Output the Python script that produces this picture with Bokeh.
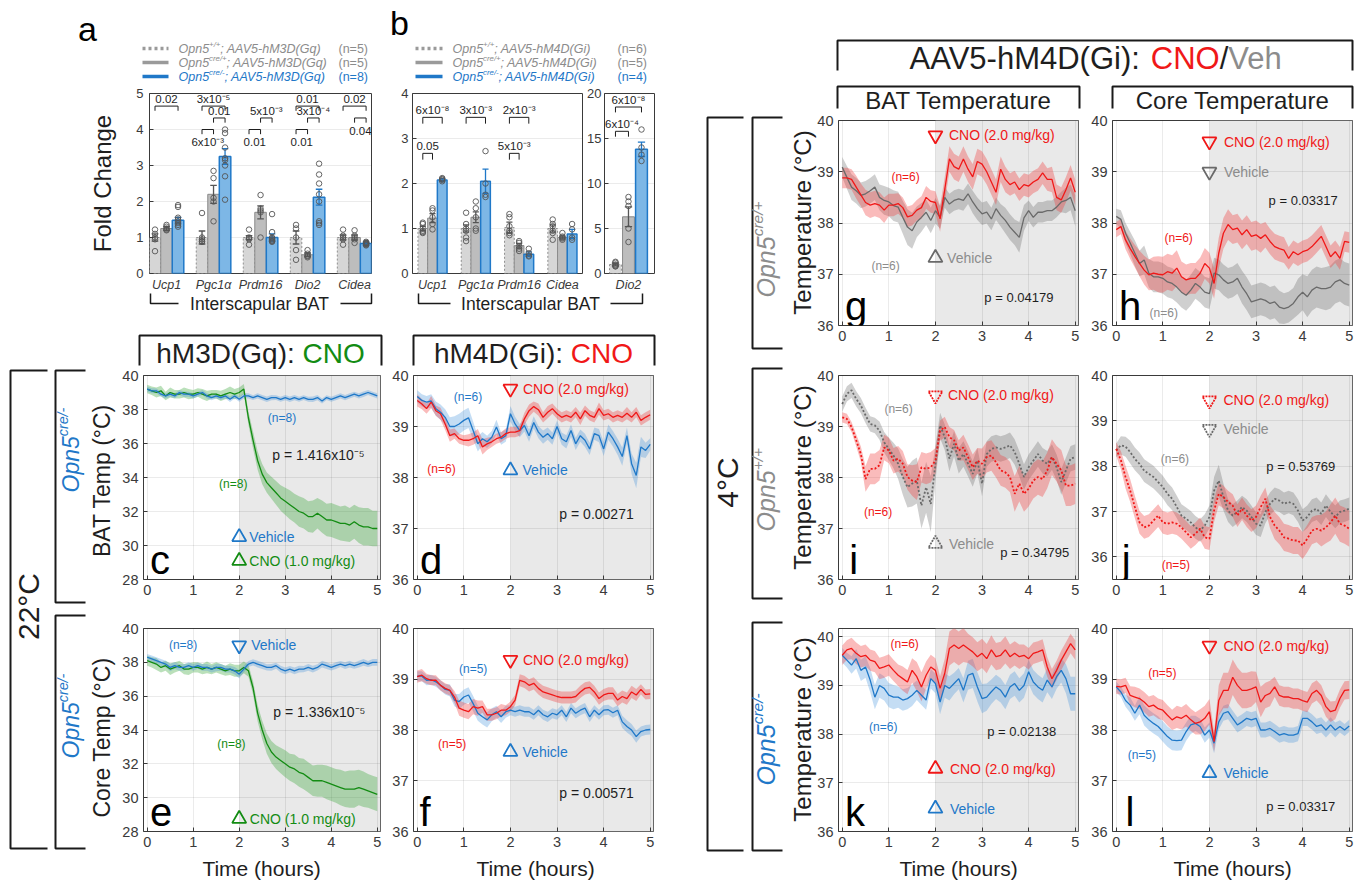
import numpy as np
from bokeh.plotting import figure
from bokeh.models import Range1d, Column, BoxAnnotation
from bokeh.core.properties import value
from bokeh.embed import file_html
from bokeh.resources import INLINE

FONT = "Liberation Sans"
BLUE = "#1f78c8"; RED = "#f01818"; GREEN = "#138c13"
GRAYL = "#6a6a6a"; GRAYT = "#8c8c8c"; INK = "#1e1e1e"

# ---------------- data: panel a (hM3D(Gq), fold change) ----------------
genes_a = ["Ucp1", "Pgc1α", "Prdm16", "Dio2", "Cidea"]
a_wt_mean = [1.0, 1.0, 1.0, 1.0, 1.0]
a_het_mean = [1.25, 2.2, 1.7, 0.52, 1.0]
a_ko_mean = [1.48, 3.25, 1.0, 2.12, 0.83]
a_wt_sem = [0.10, 0.18, 0.05, 0.18, 0.07]
a_het_sem = [0.05, 0.25, 0.18, 0.05, 0.07]
a_ko_sem = [0.08, 0.22, 0.10, 0.22, 0.04]
a_wt_pts = [[1.22, 1.1, 1.0, 0.95, 0.62], [1.68, 1.0, 0.95, 0.9, 0.88], [1.22, 1.0, 0.98, 0.95, 0.8],
            [1.35, 1.25, 1.0, 0.65, 0.38], [1.22, 1.05, 1.0, 0.95, 0.8]]
a_het_pts = [[1.35, 1.3, 1.25, 1.2, 1.22], [2.85, 2.65, 2.1, 2.0, 1.45], [2.18, 1.8, 1.75, 1.7, 1.0],
             [0.65, 0.55, 0.5, 0.48, 0.45], [1.2, 1.05, 1.0, 0.95, 0.85]]
a_ko_pts = [[1.9, 1.85, 1.5, 1.4, 1.35, 1.3, 1.45, 1.55], [4.0, 3.9, 3.5, 3.2, 3.15, 3.0, 2.7, 2.05],
            [1.65, 1.15, 1.0, 0.95, 0.92, 0.9, 0.88, 0.98], [3.05, 2.75, 2.5, 2.2, 2.0, 1.45, 1.35, 1.4],
            [0.88, 0.85, 0.83, 0.82, 0.8, 0.78, 0.85, 0.84]]
a_n = ["(n=5)", "(n=5)", "(n=8)"]
a_pvals = [(1, 0, 2, 4.65, "0.02", "above"), (2, 0, 2, 4.65, "3x10⁻⁵", "above"),
           (2, 1, 2, 4.32, "0.01", "above"), (2, 0, 1, 4.0, "6x10⁻³", "below"),
           (3, 1, 2, 4.32, "5x10⁻³", "above"), (3, 0, 1, 4.0, "0.01", "below"),
           (4, 0, 2, 4.65, "0.01", "above"), (4, 1, 2, 4.32, "3x10⁻⁴", "above"),
           (4, 0, 1, 4.0, "0.01", "below"), (5, 0, 2, 4.65, "0.02", "above"),
           (5, 1, 2, 4.32, "0.04", "below")]

# ---------------- data: panel b (hM4D(Gi), fold change) ----------------
genes_b = ["Ucp1", "Pgc1α", "Prdm16", "Cidea"]
b_wt_mean = [1.0, 1.0, 1.02, 1.0]
b_het_mean = [1.23, 1.25, 0.62, 0.8]
b_ko_mean = [2.08, 2.05, 0.43, 0.88]
b_wt_sem = [0.05, 0.08, 0.12, 0.08]
b_het_sem = [0.10, 0.12, 0.05, 0.03]
b_ko_sem = [0.03, 0.27, 0.05, 0.10]
b_wt_pts = [[1.13, 1.1, 1.0, 0.95, 0.92, 0.9], [1.35, 1.1, 1.0, 0.95, 0.8, 0.72],
            [1.32, 1.25, 1.05, 0.95, 0.9, 0.85], [1.2, 1.1, 1.05, 0.95, 0.9, 0.75]]
b_het_pts = [[1.45, 1.4, 1.25, 1.1, 0.98], [1.6, 1.45, 1.25, 1.0, 0.95],
             [0.72, 0.68, 0.6, 0.55, 0.5], [0.9, 0.82, 0.8, 0.78, 0.75]]
b_ko_pts = [[2.12, 2.1, 2.08, 2.05], [2.72, 2.0, 1.75, 1.7], [0.55, 0.45, 0.4, 0.38], [1.1, 0.98, 0.8, 0.75]]
genes_b2 = ["Dio2"]
dio2_wt_mean = [1.0]; dio2_het_mean = [6.3]; dio2_ko_mean = [13.8]
dio2_wt_sem = [0.15]; dio2_het_sem = [1.1]; dio2_ko_sem = [0.8]
dio2_wt_pts = [[1.3, 1.2, 1.0, 0.9, 0.8, 0.8]]
dio2_het_pts = [[8.5, 8.0, 7.5, 5.0, 3.5]]
dio2_ko_pts = [[16.0, 14.0, 13.2, 12.5]]
b_n = ["(n=6)", "(n=5)", "(n=4)"]
b_pvals = [(1, 0, 2, 3.47, "6x10⁻⁸", "above"), (1, 0, 1, 2.67, "0.05", "above"),
           (2, 0, 2, 3.47, "3x10⁻³", "above"), (3, 0, 2, 3.47, "2x10⁻³", "above"),
           (3, 0, 1, 2.67, "5x10⁻³", "above")]
dio2_pvals = [(1, 0, 2, 18.5, "6x10⁻⁸", "above"), (1, 0, 1, 15.8, "6x10⁻⁴", "above")]

# ---------------- data: temperature time courses ----------------
TIME = [0.0, 0.1, 0.2, 0.3, 0.4, 0.5, 0.6, 0.7, 0.8, 0.9, 1.0, 1.1, 1.2, 1.3, 1.4, 1.5, 1.6, 1.7, 1.8, 1.9,
        2.0, 2.1, 2.2, 2.3, 2.4, 2.5, 2.6, 2.7, 2.8, 2.9, 3.0, 3.1, 3.2, 3.3, 3.4, 3.5, 3.6, 3.7, 3.8, 3.9,
        4.0, 4.1, 4.2, 4.3, 4.4, 4.5, 4.6, 4.7, 4.8, 4.9, 5.0]

c_veh = [39.2, 39.1, 39.1, 38.9, 38.8, 38.9, 38.8, 39.0, 38.9, 38.9, 38.8, 38.9, 39.0, 38.8, 38.7, 38.8, 38.7,
         38.8, 38.6, 38.8, 38.6, 38.8, 38.8, 38.7, 38.8, 38.7, 38.6, 38.7, 38.7, 38.6, 38.7, 38.6, 38.7, 38.6,
         38.7, 38.6, 38.6, 38.7, 38.5, 38.7, 38.6, 38.7, 38.8, 38.7, 38.8, 38.9, 38.8, 38.9, 39.0, 38.9, 38.8]
c_veh_sem = [0.15, 0.15, 0.14, 0.15, 0.16, 0.15, 0.14, 0.15, 0.16, 0.15, 0.15, 0.14, 0.15, 0.16, 0.15, 0.15,
             0.14, 0.15, 0.16, 0.15, 0.15, 0.16, 0.15, 0.14, 0.15, 0.15, 0.16, 0.15, 0.14, 0.15, 0.15, 0.16,
             0.15, 0.15, 0.14, 0.15, 0.16, 0.15, 0.15, 0.14, 0.15, 0.16, 0.15, 0.15, 0.16, 0.15, 0.15, 0.16,
             0.15, 0.15, 0.15]
c_cno = [39.2, 39.1, 39.0, 39.1, 38.8, 39.0, 38.9, 38.9, 39.0, 38.9, 38.9, 39.0, 38.9, 38.8, 38.9, 38.9, 38.8,
         38.9, 39.0, 38.9, 39.0, 39.2, 37.5, 36.2, 35.0, 34.2, 33.7, 33.4, 33.1, 32.8, 32.6, 32.4, 32.2, 32.0,
         31.9, 31.7, 31.7, 31.9, 31.7, 31.5, 31.5, 31.4, 31.3, 31.3, 31.2, 31.4, 31.2, 31.1, 31.1, 31.0, 31.0]
c_cno_sem = [0.25, 0.25, 0.3, 0.3, 0.25, 0.3, 0.25, 0.25, 0.3, 0.3, 0.25, 0.25, 0.3, 0.3, 0.25, 0.25, 0.3, 0.3,
             0.35, 0.3, 0.3, 0.3, 0.4, 0.5, 0.55, 0.6, 0.6, 0.65, 0.7, 0.75, 0.8, 0.85, 0.85, 0.9, 0.9, 0.9,
             0.95, 0.9, 0.95, 0.95, 1.0, 1.0, 1.0, 1.05, 1.0, 1.0, 1.05, 1.1, 1.1, 1.05, 1.05]

e_veh = [38.3, 38.2, 38.1, 38.0, 37.9, 37.7, 37.8, 37.7, 37.7, 37.8, 37.7, 37.8, 37.7, 37.7, 37.6, 37.7, 37.7,
         37.6, 37.6, 37.5, 37.3, 37.6, 37.9, 38.0, 37.9, 37.8, 37.7, 37.7, 37.8, 37.6, 37.5, 37.6, 37.5, 37.6,
         37.6, 37.7, 37.6, 37.7, 37.9, 37.8, 37.7, 37.8, 37.9, 37.8, 37.9, 37.8, 37.9, 38.0, 37.9, 38.0, 38.0]
e_veh_sem = [0.2, 0.2, 0.2, 0.2, 0.2, 0.22, 0.2, 0.2, 0.18, 0.2, 0.2, 0.18, 0.2, 0.2, 0.2, 0.22, 0.2, 0.2, 0.2,
             0.22, 0.25, 0.2, 0.18, 0.18, 0.2, 0.2, 0.18, 0.2, 0.18, 0.2, 0.2, 0.18, 0.2, 0.2, 0.18, 0.2, 0.2,
             0.18, 0.2, 0.2, 0.18, 0.2, 0.18, 0.2, 0.2, 0.18, 0.2, 0.2, 0.18, 0.2, 0.2]
e_cno = [38.1, 38.0, 37.9, 37.7, 37.8, 37.6, 37.7, 37.8, 37.6, 37.6, 37.7, 37.7, 37.6, 37.7, 37.6, 37.7, 37.6,
         37.5, 37.6, 37.5, 37.5, 37.7, 37.5, 36.5, 35.0, 34.0, 33.2, 32.7, 32.4, 32.2, 32.0, 31.8, 31.7, 31.5,
         31.4, 31.2, 31.0, 31.0, 31.0, 30.9, 30.8, 30.7, 30.6, 30.5, 30.5, 30.5, 30.6, 30.5, 30.4, 30.3, 30.2]
e_cno_sem = [0.3, 0.3, 0.35, 0.3, 0.3, 0.35, 0.3, 0.3, 0.3, 0.35, 0.3, 0.3, 0.3, 0.35, 0.3, 0.3, 0.3, 0.3, 0.35,
             0.35, 0.35, 0.35, 0.35, 0.4, 0.5, 0.55, 0.6, 0.65, 0.7, 0.75, 0.8, 0.8, 0.85, 0.85, 0.9, 0.9, 0.9,
             0.95, 0.95, 1.0, 1.0, 1.0, 1.05, 1.05, 1.1, 1.1, 1.05, 1.05, 1.0, 1.0, 1.0]

d_veh = [39.59, 39.51, 39.48, 39.5, 39.35, 39.28, 39.18, 39.0, 39.0, 39.05, 39.12, 39.17, 38.92, 38.66, 38.76,
         38.7, 38.79, 38.99, 38.76, 38.82, 39.25, 39.05, 38.92, 39.02, 38.82, 39.08, 38.89, 38.79, 38.86, 38.76,
         39.0, 38.76, 38.7, 38.92, 38.66, 38.82, 38.73, 38.56, 38.86, 38.82, 38.56, 38.89, 38.76, 38.6, 38.41,
         38.82, 38.27, 38.04, 38.6, 38.53, 38.65]
d_veh_sem = [0.12, 0.12, 0.12, 0.13, 0.14, 0.15, 0.16, 0.18, 0.2, 0.2, 0.2, 0.2, 0.18, 0.15, 0.13, 0.12, 0.12,
             0.14, 0.12, 0.12, 0.15, 0.14, 0.13, 0.12, 0.12, 0.12, 0.12, 0.13, 0.12, 0.12, 0.12, 0.12, 0.13,
             0.12, 0.12, 0.12, 0.13, 0.12, 0.12, 0.13, 0.14, 0.15, 0.15, 0.16, 0.18, 0.16, 0.2, 0.25, 0.2,
             0.15, 0.12]
d_cno = [39.51, 39.44, 39.35, 39.48, 39.31, 39.25, 39.05, 38.82, 38.86, 38.76, 38.73, 38.73, 38.76, 38.82, 38.6,
         38.66, 38.7, 38.76, 38.79, 38.86, 38.89, 38.89, 38.92, 39.15, 39.31, 39.39, 39.33, 39.18, 39.28, 39.35,
         39.25, 39.18, 39.22, 39.18, 39.28, 39.15, 39.31, 39.22, 39.18, 39.35, 39.22, 39.25, 39.18, 39.22,
         39.18, 39.26, 39.18, 39.28, 39.12, 39.18, 39.23]
d_cno_sem = [0.12, 0.1, 0.1, 0.12, 0.1, 0.12, 0.12, 0.12, 0.1, 0.1, 0.1, 0.12, 0.12, 0.13, 0.15, 0.12, 0.1, 0.1,
             0.1, 0.1, 0.1, 0.1, 0.1, 0.12, 0.12, 0.1, 0.12, 0.1, 0.12, 0.1, 0.1, 0.1, 0.1, 0.1, 0.1, 0.12, 0.1,
             0.1, 0.1, 0.12, 0.1, 0.1, 0.1, 0.1, 0.1, 0.12, 0.1, 0.1, 0.1, 0.1, 0.1]

f_veh = [39.06, 39.06, 38.98, 38.99, 38.95, 38.88, 38.8, 38.78, 38.59, 38.56, 38.65, 38.69, 38.52, 38.33, 38.26,
         38.2, 38.3, 38.36, 38.26, 38.36, 38.39, 38.36, 38.39, 38.36, 38.36, 38.3, 38.39, 38.3, 38.26, 38.33,
         38.3, 38.39, 38.26, 38.43, 38.33, 38.39, 38.43, 38.26, 38.39, 38.3, 38.39, 38.4, 38.34, 38.39, 38.16,
         38.07, 38.0, 37.87, 37.97, 38.0, 38.01]
f_veh_sem = [0.1, 0.1, 0.1, 0.1, 0.1, 0.1, 0.1, 0.12, 0.12, 0.15, 0.15, 0.15, 0.15, 0.15, 0.15, 0.15, 0.13, 0.12,
             0.12, 0.12, 0.1, 0.1, 0.1, 0.1, 0.1, 0.1, 0.1, 0.1, 0.1, 0.1, 0.1, 0.1, 0.1, 0.1, 0.1, 0.1, 0.1,
             0.1, 0.1, 0.1, 0.1, 0.1, 0.1, 0.1, 0.12, 0.12, 0.12, 0.12, 0.1, 0.1, 0.1]
f_cno = [39.05, 39.08, 39.01, 38.98, 38.98, 38.88, 38.82, 38.78, 38.65, 38.43, 38.39, 38.36, 38.46, 38.43,
         38.46, 38.3, 38.3, 38.33, 38.39, 38.39, 38.46, 38.59, 38.98, 38.95, 38.88, 38.92, 38.82, 38.75, 38.72,
         38.69, 38.66, 38.64, 38.64, 38.64, 38.66, 38.75, 38.82, 38.84, 38.75, 38.62, 38.69, 38.72, 38.72,
         38.59, 38.66, 38.62, 38.75, 38.69, 38.8, 38.7, 38.71]
f_cno_sem = [0.12, 0.12, 0.1, 0.1, 0.1, 0.1, 0.1, 0.1, 0.12, 0.15, 0.15, 0.15, 0.15, 0.15, 0.12, 0.12, 0.12, 0.12,
             0.12, 0.1, 0.1, 0.1, 0.12, 0.12, 0.12, 0.12, 0.12, 0.12, 0.12, 0.12, 0.12, 0.12, 0.12, 0.12, 0.12,
             0.12, 0.12, 0.12, 0.12, 0.12, 0.12, 0.12, 0.12, 0.12, 0.12, 0.12, 0.12, 0.12, 0.1, 0.1, 0.1]

g_veh = [39.09, 38.89, 38.7, 38.63, 38.54, 38.57, 38.63, 38.7, 38.5, 38.44, 38.41, 38.34, 38.31, 38.11, 37.92,
         37.85, 38.02, 38.11, 38.21, 38.05, 38.24, 38.11, 38.5, 38.37, 38.44, 38.47, 38.44, 38.57, 38.41, 38.28,
         38.18, 38.21, 38.08, 38.28, 38.15, 38.05, 37.92, 37.82, 37.72, 38.1, 38.24, 38.11, 38.21, 38.21, 38.24,
         38.24, 38.31, 38.41, 38.44, 38.5, 38.24]
g_veh_sem = [0.2, 0.22, 0.25, 0.25, 0.25, 0.25, 0.25, 0.25, 0.25, 0.28, 0.28, 0.3, 0.3, 0.32, 0.35, 0.35, 0.3,
             0.28, 0.25, 0.25, 0.25, 0.22, 0.2, 0.2, 0.2, 0.2, 0.2, 0.2, 0.22, 0.22, 0.22, 0.22, 0.22, 0.22, 0.22,
             0.25, 0.25, 0.25, 0.3, 0.25, 0.2, 0.2, 0.2, 0.2, 0.2, 0.2, 0.2, 0.2, 0.25, 0.25, 0.3]
g_cno = [38.88, 38.88, 38.85, 38.7, 38.55, 38.4, 38.35, 38.38, 38.35, 38.25, 38.35, 38.35, 38.38, 38.3, 38.12,
         38.15, 38.25, 38.3, 38.5, 38.42, 38.4, 38.08, 38.65, 39.25, 39.1, 39.05, 39.25, 39.05, 38.9, 39.2,
         39.15, 39.0, 38.8, 38.6, 39.05, 38.85, 38.75, 38.8, 38.65, 38.75, 38.72, 38.8, 38.85, 38.98, 38.85,
         38.85, 38.5, 38.45, 38.65, 38.88, 38.6]
g_cno_sem = [0.2, 0.2, 0.2, 0.22, 0.22, 0.25, 0.25, 0.25, 0.25, 0.25, 0.22, 0.22, 0.2, 0.2, 0.2, 0.2, 0.2, 0.22,
             0.22, 0.22, 0.22, 0.25, 0.25, 0.25, 0.25, 0.25, 0.25, 0.25, 0.25, 0.25, 0.25, 0.25, 0.25, 0.25,
             0.25, 0.25, 0.22, 0.22, 0.22, 0.22, 0.22, 0.22, 0.22, 0.22, 0.22, 0.25, 0.25, 0.25, 0.25, 0.25, 0.25]

h_veh = [38.13, 38.07, 37.8, 37.61, 37.41, 37.21, 37.28, 37.02, 36.95, 36.95, 36.92, 36.85, 36.82, 36.75, 36.65,
         36.59, 36.69, 36.82, 36.75, 36.65, 36.62, 37.02, 36.99, 36.89, 36.82, 36.85, 36.92, 36.75, 36.62, 36.46,
         36.49, 36.52, 36.49, 36.43, 36.46, 36.36, 36.33, 36.36, 36.43, 36.56, 36.65, 36.56, 36.69, 36.75, 36.72,
         36.72, 36.75, 36.85, 36.89, 36.82, 36.79]
h_veh_sem = [0.15, 0.18, 0.2, 0.22, 0.25, 0.25, 0.28, 0.28, 0.3, 0.3, 0.3, 0.3, 0.3, 0.3, 0.3, 0.3, 0.3, 0.3, 0.3,
             0.3, 0.3, 0.3, 0.3, 0.3, 0.3, 0.3, 0.3, 0.32, 0.32, 0.32, 0.32, 0.32, 0.32, 0.32, 0.32, 0.32, 0.3,
             0.3, 0.3, 0.35, 0.35, 0.4, 0.4, 0.4, 0.4, 0.42, 0.42, 0.42, 0.42, 0.42, 0.42]
h_cno = [37.87, 37.93, 37.67, 37.5, 37.35, 37.21, 37.08, 36.99, 37.02, 37.0, 36.99, 37.05, 37.02, 37.12, 36.95,
         36.89, 36.92, 36.92, 37.02, 37.21, 37.12, 36.82, 37.41, 37.8, 37.97, 37.87, 37.9, 37.77, 37.87, 37.74,
         37.77, 37.7, 37.77, 37.64, 37.54, 37.5, 37.47, 37.31, 37.44, 37.38, 37.44, 37.47, 37.54, 37.64, 37.74,
         37.54, 37.34, 37.44, 37.31, 37.64, 37.62]
h_cno_sem = [0.15, 0.15, 0.18, 0.2, 0.22, 0.25, 0.28, 0.3, 0.32, 0.35, 0.35, 0.35, 0.35, 0.35, 0.3, 0.3, 0.3, 0.3,
             0.3, 0.3, 0.3, 0.3, 0.3, 0.3, 0.3, 0.28, 0.28, 0.28, 0.28, 0.28, 0.28, 0.28, 0.25, 0.25, 0.25, 0.25,
             0.25, 0.22, 0.22, 0.22, 0.22, 0.22, 0.22, 0.22, 0.22, 0.22, 0.22, 0.22, 0.22, 0.2, 0.2]

i_veh = [39.44, 39.64, 39.71, 39.54, 39.41, 39.22, 39.05, 39.02, 38.92, 38.69, 38.56, 38.43, 38.27, 38.01, 37.81,
         37.88, 37.94, 37.45, 37.81, 37.48, 38.27, 39.02, 38.79, 38.37, 38.66, 38.33, 38.46, 38.27, 38.07, 38.33,
         37.88, 38.46, 38.56, 38.59, 38.56, 38.59, 38.63, 38.5, 38.27, 38.01, 38.2, 38.33, 38.46, 38.33, 38.27,
         38.4, 38.2, 37.91, 38.14, 38.37, 38.4]
i_veh_sem = [0.15, 0.15, 0.15, 0.15, 0.15, 0.15, 0.15, 0.15, 0.18, 0.2, 0.22, 0.25, 0.3, 0.35, 0.4, 0.45, 0.45,
             0.45, 0.5, 0.55, 0.35, 0.25, 0.25, 0.25, 0.25, 0.25, 0.25, 0.25, 0.25, 0.25, 0.25, 0.25, 0.25, 0.25,
             0.25, 0.25, 0.25, 0.25, 0.25, 0.25, 0.25, 0.25, 0.25, 0.25, 0.25, 0.25, 0.25, 0.25, 0.25, 0.25, 0.25]
i_cno = [39.18, 39.15, 38.99, 38.73, 38.46, 37.97, 38.17, 38.17, 38.24, 38.59, 38.53, 38.33, 38.37, 38.27, 38.01,
         37.94, 37.91, 38.2, 38.17, 38.2, 38.33, 38.92, 38.99, 38.79, 38.73, 38.53, 38.59, 38.4, 38.2, 38.33,
         38.27, 38.4, 38.43, 38.3, 38.14, 38.1, 38.01, 37.68, 37.88, 37.68, 37.78, 37.94, 38.01, 37.97, 38.14,
         38.4, 38.27, 38.14, 37.84, 37.84, 37.88]
i_cno_sem = [0.1, 0.1, 0.1, 0.12, 0.15, 0.25, 0.3, 0.3, 0.3, 0.25, 0.25, 0.25, 0.25, 0.25, 0.25, 0.3, 0.35, 0.3,
             0.3, 0.3, 0.25, 0.2, 0.2, 0.2, 0.2, 0.2, 0.25, 0.25, 0.25, 0.25, 0.3, 0.3, 0.3, 0.3, 0.3, 0.3, 0.3,
             0.35, 0.35, 0.35, 0.35, 0.35, 0.35, 0.35, 0.35, 0.35, 0.35, 0.4, 0.4, 0.4, 0.4]

j_veh = [38.35, 38.46, 38.43, 38.31, 38.16, 38.05, 37.9, 37.83, 37.76, 37.65, 37.54, 37.39, 37.28, 37.1, 36.91,
         36.84, 36.76, 36.65, 36.58, 36.69, 36.88, 37.46, 37.68, 37.32, 37.02, 36.91, 36.99, 37.1, 37.02, 36.88,
         36.73, 36.69, 36.99, 37.17, 37.28, 37.24, 37.17, 37.21, 37.17, 37.02, 36.8, 36.88, 37.02, 37.06, 36.95,
         37.13, 36.99, 36.88, 36.99, 37.02, 37.06]
j_veh_sem = [0.15, 0.2, 0.22, 0.25, 0.25, 0.25, 0.25, 0.25, 0.25, 0.25, 0.25, 0.25, 0.25, 0.25, 0.25, 0.25, 0.25,
             0.25, 0.25, 0.25, 0.25, 0.3, 0.35, 0.3, 0.25, 0.25, 0.25, 0.25, 0.25, 0.25, 0.25, 0.25, 0.25, 0.25,
             0.25, 0.25, 0.25, 0.25, 0.25, 0.25, 0.25, 0.25, 0.25, 0.25, 0.25, 0.25, 0.25, 0.25, 0.25, 0.25, 0.25]
j_cno = [38.38, 38.13, 37.76, 37.46, 37.1, 36.76, 36.65, 36.69, 36.8, 36.91, 36.76, 36.73, 36.76, 36.73, 36.65,
         36.54, 36.43, 36.51, 36.62, 36.43, 36.4, 37.02, 37.39, 37.32, 37.21, 37.13, 36.91, 37.06, 36.91, 36.8,
         36.88, 37.1, 37.28, 36.88, 36.69, 36.58, 36.43, 36.4, 36.36, 36.36, 36.25, 36.4, 36.58, 36.62, 36.58,
         36.65, 36.76, 36.91, 36.73, 36.69, 36.62]
j_cno_sem = [0.15, 0.2, 0.25, 0.25, 0.25, 0.25, 0.25, 0.25, 0.25, 0.25, 0.25, 0.25, 0.25, 0.25, 0.25, 0.25, 0.25,
             0.25, 0.25, 0.25, 0.25, 0.25, 0.25, 0.25, 0.25, 0.25, 0.25, 0.25, 0.25, 0.25, 0.25, 0.25, 0.25, 0.25,
             0.3, 0.3, 0.3, 0.3, 0.3, 0.3, 0.3, 0.3, 0.3, 0.3, 0.35, 0.35, 0.4, 0.4, 0.4, 0.4, 0.4]

k_veh = [39.62, 39.52, 39.42, 39.55, 39.31, 39.38, 39.11, 38.76, 39.0, 38.94, 38.8, 38.76, 38.76, 38.7, 38.73,
         38.8, 38.9, 38.8, 38.7, 39.14, 39.04, 38.66, 39.0, 38.94, 39.04, 39.14, 38.9, 39.21, 39.25, 38.97, 38.73,
         38.76, 38.87, 38.97, 38.9, 38.76, 38.97, 39.04, 38.9, 39.0, 39.28, 39.07, 38.97, 38.9, 39.11, 38.97,
         39.18, 39.31, 39.14, 38.83, 38.83]
k_veh_sem = [0.15, 0.15, 0.18, 0.2, 0.22, 0.22, 0.25, 0.25, 0.25, 0.25, 0.25, 0.25, 0.22, 0.22, 0.22, 0.22, 0.2,
             0.2, 0.2, 0.2, 0.2, 0.25, 0.25, 0.25, 0.22, 0.22, 0.25, 0.3, 0.3, 0.3, 0.3, 0.28, 0.25, 0.25, 0.25,
             0.25, 0.25, 0.25, 0.25, 0.25, 0.25, 0.25, 0.25, 0.25, 0.25, 0.25, 0.25, 0.25, 0.3, 0.35, 0.35]
k_cno = [39.62, 39.73, 39.76, 39.66, 39.59, 39.62, 39.52, 39.49, 39.35, 39.38, 39.42, 39.31, 39.21, 39.14, 39.07,
         39.31, 39.18, 38.97, 39.21, 39.38, 39.31, 38.94, 39.25, 39.76, 39.83, 39.76, 39.83, 39.76, 39.69, 39.59,
         39.66, 39.55, 39.73, 39.59, 39.62, 39.73, 39.59, 39.66, 39.59, 39.62, 39.55, 39.66, 39.69, 39.73, 39.38,
         39.14, 39.31, 39.52, 39.69, 39.86, 39.73]
k_cno_sem = [0.2, 0.2, 0.22, 0.22, 0.22, 0.22, 0.22, 0.22, 0.22, 0.22, 0.22, 0.22, 0.22, 0.25, 0.25, 0.25, 0.3,
             0.3, 0.28, 0.25, 0.25, 0.25, 0.3, 0.35, 0.35, 0.35, 0.35, 0.3, 0.3, 0.3, 0.3, 0.3, 0.3, 0.28, 0.28,
             0.28, 0.25, 0.25, 0.25, 0.22, 0.22, 0.22, 0.22, 0.22, 0.2, 0.2, 0.2, 0.2, 0.2, 0.2, 0.2]

l_veh = [38.85, 38.75, 38.58, 38.49, 38.33, 38.49, 38.29, 38.2, 38.13, 38.07, 37.97, 37.87, 37.8, 37.79, 37.8,
         37.97, 38.1, 38.13, 38.07, 37.9, 38.0, 37.74, 38.16, 38.33, 38.36, 38.23, 38.1, 38.16, 38.23, 38.2,
         38.23, 38.0, 38.0, 38.03, 37.97, 37.9, 37.93, 37.9, 37.9, 37.93, 38.23, 38.23, 38.16, 38.07, 38.1, 38.0,
         38.1, 38.0, 38.07, 38.0, 38.08]
l_veh_sem = [0.1, 0.1, 0.12, 0.15, 0.15, 0.18, 0.2, 0.2, 0.2, 0.2, 0.2, 0.2, 0.2, 0.2, 0.2, 0.18, 0.18, 0.15, 0.15,
             0.15, 0.15, 0.2, 0.15, 0.15, 0.15, 0.15, 0.15, 0.15, 0.15, 0.15, 0.15, 0.15, 0.15, 0.15, 0.15, 0.15,
             0.15, 0.15, 0.15, 0.15, 0.15, 0.15, 0.15, 0.15, 0.15, 0.15, 0.15, 0.15, 0.12, 0.12, 0.12]
l_cno = [38.86, 38.85, 38.88, 38.68, 38.65, 38.62, 38.55, 38.46, 38.49, 38.42, 38.39, 38.29, 38.2, 38.26, 38.23,
         38.29, 38.2, 38.13, 38.16, 38.23, 38.36, 37.77, 38.58, 38.78, 38.78, 39.04, 38.88, 38.78, 38.78, 38.81,
         38.85, 38.55, 38.68, 38.72, 38.85, 38.68, 38.65, 38.65, 38.62, 38.62, 38.58, 38.55, 38.72, 38.78, 38.68,
         38.46, 38.36, 38.39, 38.62, 38.78, 38.79]
l_cno_sem = [0.15, 0.15, 0.15, 0.18, 0.2, 0.2, 0.2, 0.2, 0.2, 0.2, 0.2, 0.2, 0.2, 0.22, 0.22, 0.22, 0.22, 0.22,
             0.25, 0.25, 0.25, 0.2, 0.3, 0.35, 0.35, 0.35, 0.35, 0.35, 0.35, 0.35, 0.3, 0.3, 0.25, 0.25, 0.2, 0.2,
             0.2, 0.2, 0.2, 0.2, 0.2, 0.2, 0.2, 0.2, 0.2, 0.2, 0.2, 0.18, 0.18, 0.18, 0.18]

# ---------------- layout (reference-pixel frames; page origin = screen origin) ----------------
X0, Y0, W, H = 0, 0, 1360, 882
FR = {"a": (149, 93, 371, 273), "b": (412, 93, 582, 273), "b2": (604, 93, 654, 273),
      "c": (143, 375, 380, 579), "d": (413, 375, 653, 579), "e": (143, 628, 380, 831), "f": (413, 628, 653, 831),
      "g": (838, 120, 1078, 325), "h": (1112, 120, 1352, 325), "i": (838, 375, 1078, 579),
      "j": (1112, 375, 1352, 579), "k": (838, 628, 1078, 831), "l": (1112, 628, 1352, 831)}

_AW = {}
for chars, wd in [("0123456789abdeghnopquL", 556), ("cksvxyzJ", 500), ("ft :;,./I!", 278), ("ijl", 222),
                  ("r()-", 333), ("mM", 833), ("wCDHNRU", 722), ("ABEKPSVXY", 667), ("FTZ", 611),
                  ("GOQ", 778), ("+=", 584), ("W", 944), ("°", 400)]:
    for ch in chars:
        _AW[ch] = wd


def tw(s, size):
    return sum(_AW.get(ch, 556) for ch in s) / 1000.0 * size


def txt(p, x, y, s, size, color=INK, align="center", baseline="middle", style="normal", angle=0.0):
    p.text(x=[x], y=[y], text=[s], text_font=value(FONT), text_font_size=f"{size}px", text_color=color,
           text_align=align, text_baseline=baseline, text_font_style=style, angle=angle)


def rich(p, x, y, parts, size, align="left", angle=0.0):
    """Text made of pieces (some superscript); (x, y) is the middle line of the normal-size text."""
    sizes = [size * (0.62 if sup else 1.0) for (_, _, sup, _) in parts]
    widths = [tw(t, s) for (t, _, _, _), s in zip(parts, sizes)]
    total = sum(widths)
    pos = {"left": 0.0, "center": -total / 2.0, "right": -total}[align]
    for (t, c, sup, st), s, w in zip(parts, sizes, widths):
        up = size * 0.33 if sup else 0.0
        if angle == 0.0:
            px, py = x + pos, y - up
        else:
            px, py = x - up, y - pos
        txt(p, px, py, t, round(s, 1), c, "left", "middle", st, angle)
        pos += w


def mk(fr, xr, yr):
    L, T, R, B = fr
    p = figure(width=W, height=H, x_range=Range1d(*xr), y_range=Range1d(*yr), output_backend="svg",
               toolbar_location=None, tools="", min_border_left=L - X0, min_border_right=X0 + W - R,
               min_border_top=T - Y0, min_border_bottom=Y0 + H - B, background_fill_color="white",
               border_fill_color=None, outline_line_color="#3a3a3a", outline_line_width=1,
               margin=(-H, 0, 0, 0), frame_align=False)
    return p


def style_axes(p, size, standoff):
    for ax in list(p.xaxis) + list(p.yaxis):
        ax.axis_line_color = None
        ax.major_tick_in = 4
        ax.major_tick_out = 0
        ax.minor_tick_line_color = None
        ax.major_tick_line_color = "#3a3a3a"
        ax.major_label_text_font = FONT
        ax.major_label_text_font_size = size
        ax.major_label_text_font_style = "normal"
        ax.major_label_text_color = "#3a3a3a"
        ax.major_label_standoff = standoff
    p.ygrid.grid_line_color = "black"
    p.ygrid.grid_line_alpha = 0.08


BAR_FILL = ["#d6d6d6", "#bdbdbd", "#7db7e6"]
BAR_LINE = ["#8f8f8f", "#8a8a8a", BLUE]
BAR_DASH = ["2 2", "solid", "solid"]
BAR_LW = [1.0, 1.0, 1.5]
ERR_C = ["#555555", "#555555", BLUE]


def bar_panel(fr, xr, yr, yticks, labels, means, sems, pts, bw, offs, cap, pvals, leg, ystand):
    p = mk(fr, xr, yr)
    px_unit = (yr[1] - yr[0]) / (fr[3] - fr[1])
    style_axes(p, "13px", ystand)
    p.xaxis.ticker = list(range(1, len(labels) + 1))
    p.xaxis.major_label_overrides = {i + 1: s for i, s in enumerate(labels)}
    p.xaxis.major_label_text_font_style = "italic"
    p.xaxis.major_label_text_font_size = "12.5px"
    p.xaxis.major_label_standoff = 4
    p.xaxis.major_tick_in = 0
    p.yaxis.ticker = yticks
    p.xgrid.grid_line_color = None
    base = np.arange(1, len(labels) + 1, dtype=float)
    for k in range(3):
        p.vbar(x=base + offs[k], top=means[k], bottom=0, width=bw, fill_color=BAR_FILL[k],
               line_color=BAR_LINE[k], line_width=BAR_LW[k], line_dash=BAR_DASH[k])
    for k in range(3):
        xs = base + offs[k]
        m = np.array(means[k]); s = np.array(sems[k])
        p.segment(x0=xs, y0=m - s, x1=xs, y1=m + s, line_color=ERR_C[k], line_width=1.3)
        p.segment(x0=xs - cap, y0=m + s, x1=xs + cap, y1=m + s, line_color=ERR_C[k], line_width=1.3)
        p.segment(x0=xs - cap, y0=m - s, x1=xs + cap, y1=m - s, line_color=ERR_C[k], line_width=1.3)
        px, py = [], []
        for i, vals in enumerate(pts[k]):
            px += [base[i] + offs[k]] * len(vals)
            py += list(vals)
        p.scatter(x=px, y=py, size=5.5, marker="circle", fill_color=None, line_color="#555555", line_width=0.9)
    for (g, i, j, y, lab, pos) in pvals:
        x0, x1 = g + offs[i], g + offs[j]
        p.multi_line(xs=[[x0, x0, x1, x1]], ys=[[y - leg, y, y, y - leg]], line_color=INK, line_width=1)
        if pos == "above":
            txt(p, (x0 + x1) / 2, y + 7 * px_unit, lab, 11.5, INK, "center", "middle")
        else:
            txt(p, (x0 + x1) / 2, y - leg - 8 * px_unit, lab, 11.5, INK, "center", "middle")
    return p


BANDS = {BLUE: ("#3d8fd9", 0.30), GREEN: ("#3aa53a", 0.35), RED: ("#f03c3c", 0.35), GRAYL: ("#6a6a6a", 0.32)}


def time_panel(fr, yr, yticks, series, letter, lx, texts, marks):
    p = mk(fr, (-0.08, 5.07), yr)
    px_unit = (yr[1] - yr[0]) / (fr[3] - fr[1])
    style_axes(p, "14.5px", 5)
    p.xaxis.ticker = [0, 1, 2, 3, 4, 5]
    p.yaxis.ticker = yticks
    p.xgrid.grid_line_color = "black"
    p.xgrid.grid_line_alpha = 0.08
    p.add_layout(BoxAnnotation(left=2, fill_color="#e9e9e9", fill_alpha=1.0, line_color=None, level="image"))
    for (m, s, col, dash) in series:
        m = np.array(m); s = np.array(s)
        fc, fa = BANDS[col]
        p.varea(x=TIME, y1=m - s, y2=m + s, fill_color=fc, fill_alpha=fa)
    for (m, s, col, dash) in series:
        if dash:
            p.line(TIME, m, line_color=col, line_width=1.8, line_dash="2 2")
        else:
            p.line(TIME, m, line_color=col, line_width=1.3)
    txt(p, lx, yr[0] + 20 * px_unit, letter, 40, "black", "left", "middle")
    for (x, y, s, col, size, align) in texts:
        txt(p, x, y, s, size, col, align, "middle")
    for (x, y, mk_, col, dotted) in marks:
        p.scatter(x=[x], y=[y], marker=mk_, size=14, fill_color=None, line_color=col, line_width=1.8,
                  line_dash="2 1" if dotted else "solid")
    return p


panels = []
OFF_A = [-0.245, 0.0, 0.245]
panels.append(bar_panel(FR["a"], (0.638, 5.36), (0, 5), [0, 1, 2, 3, 4, 5], genes_a,
                        [a_wt_mean, a_het_mean, a_ko_mean], [a_wt_sem, a_het_sem, a_ko_sem],
                        [a_wt_pts, a_het_pts, a_ko_pts], 0.245, OFF_A, 0.07, a_pvals, 0.13, 6))
OFF_B = [-0.224, 0.0, 0.224]
panels.append(bar_panel(FR["b"], (0.538, 4.464), (0, 4), [0, 1, 2, 3, 4], genes_b,
                        [b_wt_mean, b_het_mean, b_ko_mean], [b_wt_sem, b_het_sem, b_ko_sem],
                        [b_wt_pts, b_het_pts, b_ko_pts], 0.224, OFF_B, 0.07, b_pvals, 0.14, 4))
OFF_D = [-0.286, 0.0, 0.286]
panels.append(bar_panel(FR["b2"], (0.473, 1.572), (0, 20), [0, 5, 10, 15, 20], genes_b2,
                        [dio2_wt_mean, dio2_het_mean, dio2_ko_mean], [dio2_wt_sem, dio2_het_sem, dio2_ko_sem],
                        [dio2_wt_pts, dio2_het_pts, dio2_ko_pts], 0.26, OFF_D, 0.08, dio2_pvals, 0.6, 3))

T28 = [28, 30, 32, 34, 36, 38, 40]
T36 = [36, 37, 38, 39, 40]
panels.append(time_panel(FR["c"], (28, 40), T28, [(c_cno, c_cno_sem, GREEN, False), (c_veh, c_veh_sem, BLUE, False)],
    "c", 0.06,
    [(2.93, 37.5, "(n=8)", BLUE, 12, "center"), (2.72, 35.3, "p = 1.416x10⁻⁵", INK, 14, "left"),
     (1.87, 33.6, "(n=8)", GREEN, 12, "center"), (2.22, 30.5, "Vehicle", BLUE, 14, "left"),
     (2.22, 29.1, "CNO (1.0 mg/kg)", GREEN, 14, "left")],
    [(2.0, 30.5, "triangle", BLUE, False), (2.0, 29.1, "triangle", GREEN, False)]))
panels.append(time_panel(FR["d"], (36, 40), T36, [(d_veh, d_veh_sem, BLUE, False), (d_cno, d_cno_sem, RED, False)],
    "d", 0.06,
    [(2.27, 39.74, "CNO (2.0 mg/kg)", RED, 14, "left"), (1.09, 39.58, "(n=6)", BLUE, 12, "center"),
     (0.52, 38.16, "(n=6)", RED, 12, "center"), (2.26, 38.14, "Vehicle", BLUE, 14, "left"),
     (3.05, 37.29, "p = 0.00271", INK, 14, "left")],
    [(2.0, 39.74, "inverted_triangle", RED, False), (2.0, 38.14, "triangle", BLUE, False)]))
panels.append(time_panel(FR["e"], (28, 40), T28, [(e_cno, e_cno_sem, GREEN, False), (e_veh, e_veh_sem, BLUE, False)],
    "e", 0.06,
    [(0.78, 39.0, "(n=8)", BLUE, 12, "center"), (2.26, 39.0, "Vehicle", BLUE, 14, "left"),
     (2.74, 35.05, "p = 1.336x10⁻⁵", INK, 14, "left"), (1.83, 33.2, "(n=8)", GREEN, 12, "center"),
     (2.23, 28.75, "CNO (1.0 mg/kg)", GREEN, 14, "left")],
    [(2.0, 39.0, "inverted_triangle", BLUE, False), (2.0, 28.75, "triangle", GREEN, False)]))
panels.append(time_panel(FR["f"], (36, 40), T36, [(f_veh, f_veh_sem, BLUE, False), (f_cno, f_cno_sem, RED, False)],
    "f", 0.05,
    [(2.27, 39.38, "CNO (2.0 mg/kg)", RED, 14, "left"), (1.2, 39.2, "(n=5)", BLUE, 12, "center"),
     (0.75, 37.72, "(n=5)", RED, 12, "center"), (2.26, 37.57, "Vehicle", BLUE, 14, "left"),
     (3.05, 36.75, "p = 0.00571", INK, 14, "left")],
    [(2.0, 39.38, "inverted_triangle", RED, False), (2.0, 37.57, "triangle", BLUE, False)]))
panels.append(time_panel(FR["g"], (36, 40), T36, [(g_veh, g_veh_sem, GRAYL, False), (g_cno, g_cno_sem, RED, False)],
    "g", 0.06,
    [(2.29, 39.71, "CNO (2.0 mg/kg)", RED, 14, "left"), (1.36, 38.9, "(n=6)", RED, 12, "center"),
     (0.93, 37.17, "(n=6)", GRAYT, 12, "center"), (2.25, 37.32, "Vehicle", GRAYT, 14, "left"),
     (3.05, 36.54, "p = 0.04179", INK, 13, "left")],
    [(2.0, 39.71, "inverted_triangle", RED, False), (2.0, 37.32, "triangle", GRAYL, False)]))
panels.append(time_panel(FR["h"], (36, 40), T36, [(h_veh, h_veh_sem, GRAYL, False), (h_cno, h_cno_sem, RED, False)],
    "h", 0.06,
    [(2.31, 39.59, "CNO (2.0 mg/kg)", RED, 14, "left"), (2.31, 39.0, "Vehicle", GRAYT, 14, "left"),
     (3.27, 38.44, "p = 0.03317", INK, 13, "left"), (1.34, 37.7, "(n=6)", RED, 12, "center"),
     (1.02, 36.24, "(n=6)", GRAYT, 12, "center")],
    [(2.0, 39.59, "inverted_triangle", RED, False), (2.0, 39.0, "inverted_triangle", GRAYL, False)]))
panels.append(time_panel(FR["i"], (36, 40), T36, [(i_veh, i_veh_sem, GRAYL, True), (i_cno, i_cno_sem, RED, True)],
    "i", 0.15,
    [(2.27, 39.61, "CNO (2.0 mg/kg)", RED, 14, "left"), (1.21, 39.35, "(n=6)", GRAYT, 12, "center"),
     (0.77, 37.33, "(n=6)", RED, 12, "center"), (2.29, 36.7, "Vehicle", GRAYT, 14, "left"),
     (3.39, 36.52, "p = 0.34795", INK, 13, "left")],
    [(2.0, 39.61, "inverted_triangle", RED, True), (2.0, 36.7, "triangle", GRAYL, True)]))
panels.append(time_panel(FR["j"], (35.5, 40), T36, [(j_veh, j_veh_sem, GRAYL, True), (j_cno, j_cno_sem, RED, True)],
    "j", 0.12,
    [(2.3, 39.45, "CNO (2.0 mg/kg)", RED, 14, "left"), (2.3, 38.82, "Vehicle", GRAYT, 14, "left"),
     (1.26, 38.16, "(n=6)", GRAYT, 12, "center"), (3.22, 37.99, "p = 0.53769", INK, 13, "left"),
     (1.28, 35.81, "(n=5)", RED, 12, "center")],
    [(2.0, 39.45, "inverted_triangle", RED, True), (2.0, 38.82, "inverted_triangle", GRAYL, True)]))
panels.append(time_panel(FR["k"], (36, 40.17), T36, [(k_veh, k_veh_sem, BLUE, False), (k_cno, k_cno_sem, RED, False)],
    "k", 0.06,
    [(1.34, 39.86, "(n=6)", RED, 12, "center"), (0.88, 38.15, "(n=6)", BLUE, 12, "center"),
     (3.11, 38.05, "p = 0.02138", INK, 13, "left"), (2.31, 37.29, "CNO (2.0 mg/kg)", RED, 14, "left"),
     (2.31, 36.47, "Vehicle", BLUE, 14, "left")],
    [(2.0, 37.29, "triangle", RED, False), (2.0, 36.47, "triangle", BLUE, False)]))
panels.append(time_panel(FR["l"], (36, 40), T36, [(l_veh, l_veh_sem, BLUE, False), (l_cno, l_cno_sem, RED, False)],
    "l", 0.2,
    [(2.3, 39.66, "CNO (2.0 mg/kg)", RED, 14, "left"), (0.99, 39.12, "(n=5)", RED, 12, "center"),
     (0.55, 37.5, "(n=5)", BLUE, 12, "center"), (2.3, 37.15, "Vehicle", BLUE, 14, "left"),
     (3.22, 36.49, "p = 0.03317", INK, 13, "left")],
    [(2.0, 39.66, "inverted_triangle", RED, False), (2.0, 37.15, "triangle", BLUE, False)]))

# ---------------- decoration layer (reference pixel coordinates) ----------------
deco = figure(width=W, height=H, x_range=Range1d(X0, X0 + W), y_range=Range1d(Y0 + H, Y0), output_backend="svg",
              toolbar_location=None, tools="", min_border=0, x_axis_location=None, y_axis_location=None,
              outline_line_color=None, background_fill_color="white", border_fill_color="white",
              margin=(0, 0, 0, 0), frame_align=False)
deco.xgrid.visible = False
deco.ygrid.visible = False

brk = [([139, 139, 381, 381], [365, 335, 335, 365]), ([413, 413, 654, 654], [365, 335, 335, 365]),
       ([837, 837, 1352, 1352], [70, 40, 40, 70]), ([837, 837, 1079, 1079], [108, 86, 86, 108]),
       ([1112, 1112, 1352, 1352], [108, 86, 86, 108]),
       ([47, 10, 10, 47], [370, 370, 848, 848]), ([85, 55, 55, 85], [370, 370, 602, 602]),
       ([85, 55, 55, 85], [615, 615, 848, 848]),
       ([743, 707, 707, 743], [117, 117, 850, 850]), ([782, 752, 752, 782], [117, 117, 348, 348]),
       ([782, 752, 752, 782], [368, 368, 598, 598]), ([782, 752, 752, 782], [622, 622, 850, 850])]
deco.multi_line(xs=[b[0] for b in brk], ys=[b[1] for b in brk], line_color="#1a1a1a", line_width=2)
ib = [([150, 150, 178], [293, 303, 303]), ([340, 371, 371], [303, 303, 293]),
      ([418, 418, 450], [293, 303, 303]), ([610, 642, 642], [303, 303, 293])]
deco.multi_line(xs=[b[0] for b in ib], ys=[b[1] for b in ib], line_color="#1a1a1a", line_width=1.5)
txt(deco, 259, 303, "Interscapular BAT", 17.5)
txt(deco, 530, 303, "Interscapular BAT", 17.5)

txt(deco, 87, 28, "a", 34, "black", "center", "middle")
txt(deco, 399, 22, "b", 34, "black", "center", "middle")

for (x0, x1, tx, nx, tag, counts) in [(142, 168, 178, 338, "hM3D(Gq)", a_n), (415, 442, 452, 617, "hM4D(Gi)", b_n)]:
    rows = [(48, GRAYT, "3 3", "+/+"), (62, GRAYT, "solid", "cre/+"), (76, BLUE, "solid", "cre/-")]
    for (yy, col, dash, sup), cnt in zip(rows, counts):
        deco.segment(x0=[x0], y0=[yy], x1=[x1], y1=[yy], line_color=col if col != GRAYT else "#9a9a9a",
                     line_width=3.5, line_dash=dash)
        rich(deco, tx, yy, [("Opn5", col, False, "italic"), (sup, col, True, "italic"),
                            ("; AAV5-" + tag, col, False, "italic")], 12.5)
        txt(deco, nx, yy, cnt, 12.5, col, "left", "middle")

rich(deco, 260, 353, [("hM3D(Gq): ", INK, False, "normal"), ("CNO", GREEN, False, "normal")], 28, "center")
rich(deco, 533, 353, [("hM4D(Gi): ", INK, False, "normal"), ("CNO", RED, False, "normal")], 28, "center")
rich(deco, 1096, 58, [("AAV5-hM4D(Gi): ", INK, False, "normal"), ("CNO", RED, False, "normal"),
                      ("/", INK, False, "normal"), ("Veh", GRAYT, False, "normal")], 31, "center")
txt(deco, 958, 100, "BAT Temperature", 24, INK, "center", "middle")
txt(deco, 1232, 100, "Core Temperature", 24, INK, "center", "middle")

R90 = np.pi / 2
txt(deco, 102, 183, "Fold Change", 24, INK, "center", "middle", angle=R90)
txt(deco, 101, 480, "BAT Temp (°C)", 23, INK, "center", "middle", angle=R90)
txt(deco, 101, 737, "Core Temp (°C)", 23, INK, "center", "middle", angle=R90)
for yc in (222, 477, 729):
    txt(deco, 802, yc, "Temperature (°C)", 24, INK, "center", "middle", angle=R90)
for xc in (261, 535, 958, 1232):
    txt(deco, xc, 868, "Time (hours)", 21, INK, "center", "middle")
txt(deco, 28, 606, "22°C", 30, INK, "center", "middle", angle=R90)
txt(deco, 727, 482, "4°C", 30, INK, "center", "middle", angle=R90)

rich(deco, 70, 492, [("Opn5", BLUE, False, "italic"), ("cre/-", BLUE, True, "italic")], 23, angle=R90)
rich(deco, 70, 758, [("Opn5", BLUE, False, "italic"), ("cre/-", BLUE, True, "italic")], 23, angle=R90)
rich(deco, 765, 297, [("Opn5", GRAYT, False, "italic"), ("cre/+", GRAYT, True, "italic")], 25, angle=R90)
rich(deco, 765, 531, [("Opn5", GRAYT, False, "italic"), ("+/+", GRAYT, True, "italic")], 25, angle=R90)
rich(deco, 765, 785, [("Opn5", BLUE, False, "italic"), ("cre/-", BLUE, True, "italic")], 25, angle=R90)

page = Column(children=[deco] + panels, spacing=0)
open("out.html", "w").write(file_html(page, INLINE))
